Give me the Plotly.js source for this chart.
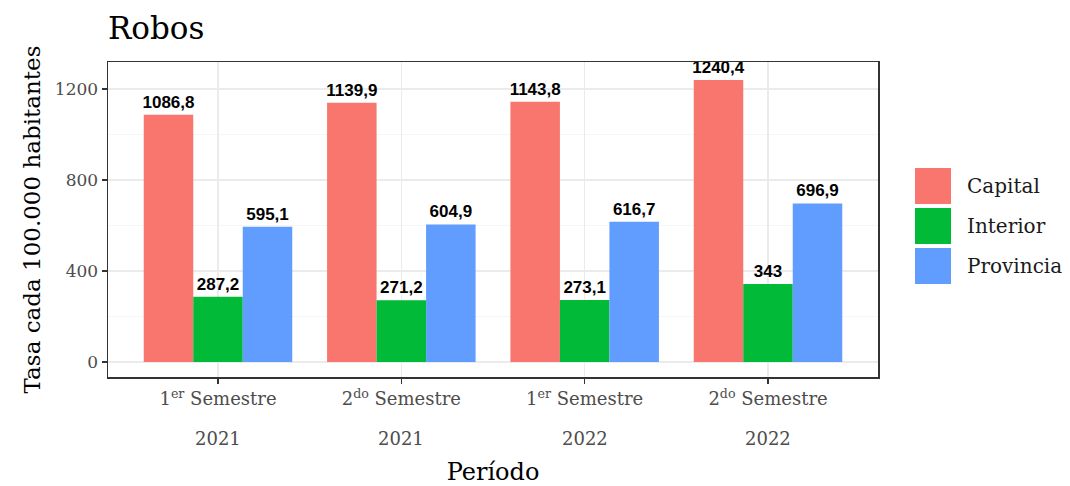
<!DOCTYPE html>
<html><head><meta charset="utf-8">
<script src="https://cdn.plot.ly/plotly-3.0.1.min.js"></script>
<style>html,body{margin:0;padding:0;background:#fff}</style>
</head><body><div id="chart" style="width:1070px;height:486px"></div>
<script>
var semesters = ["1<sup>er</sup> Semestre", "2<sup>do</sup> Semestre", "1<sup>er</sup> Semestre", "2<sup>do</sup> Semestre"];
var years = ["2021", "2021", "2022", "2022"];
var seriesNames = ["Capital", "Interior", "Provincia"];
var capital = [1086.8, 1139.9, 1143.8, 1240.4];
var interior = [287.2, 271.2, 273.1, 343];
var provincia = [595.1, 604.9, 616.7, 696.9];
var colors = ["#F8766D", "#00BA38", "#619CFF"];
var yTicks = [0, 400, 800, 1200];

var serif = "DejaVu Serif, serif";
var allSeries = [capital, interior, provincia];
var xIdx = semesters.map(function(_, i){ return i; });
function fmt(v){ return String(v).replace('.', ','); }

var traces = allSeries.map(function(vals, k){
  return {
    type: 'bar', name: seriesNames[k], x: xIdx, y: vals,
    marker: {color: colors[k], line: {width: 0}},
    text: vals.map(fmt), textposition: 'outside', cliponaxis: false,
    constraintext: 'none',
    textfont: {family: 'Liberation Sans, Arial, sans-serif', size: 17, color: '#000', weight: 'bold'},
    showlegend: false, hoverinfo: 'x+y'
  };
});

var shapes = [], annotations = [];
var px = function(x){ return (x - 108) / 770; };
var py = function(y){ return (377 - y) / 315; };
var keyTops = [168, 208, 248];
seriesNames.forEach(function(n, k){
  shapes.push({type: 'rect', xref: 'paper', yref: 'paper',
    x0: px(915), x1: px(951), y0: py(keyTops[k] + 36), y1: py(keyTops[k]),
    fillcolor: colors[k], line: {width: 0}});
  annotations.push({xref: 'paper', yref: 'paper', x: px(965), y: py(keyTops[k] + 18),
    xanchor: 'left', yanchor: 'middle', showarrow: false, text: n,
    font: {family: serif, size: 20, color: '#1a1a1a'}});
});
years.forEach(function(yr, i){
  annotations.push({xref: 'x', yref: 'paper', x: xIdx[i], y: py(438),
    xanchor: 'center', yanchor: 'middle', showarrow: false, text: yr,
    font: {family: serif, size: 18, color: '#4d4d4d'}});
});

var layout = {
  width: 1070, height: 486,
  margin: {l: 108, r: 192, t: 62, b: 109},
  paper_bgcolor: '#fff', plot_bgcolor: '#fff',
  title: {text: 'Robos', x: 108/1070, xanchor: 'left', y: 1 - 28/486, yanchor: 'middle',
    font: {family: serif, size: 31, color: '#000'}},
  barmode: 'group', bargap: 0.19, bargroupgap: 0,
  xaxis: {
    tickmode: 'array', tickvals: xIdx, ticktext: semesters,
    range: [-0.6, 3.6], showgrid: true, gridcolor: '#ebebeb', gridwidth: 1.2,
    ticks: 'outside', ticklen: 5, tickcolor: '#333', tickwidth: 1.2,
    tickfont: {family: serif, size: 18, color: '#4d4d4d'},
    showline: true, linecolor: '#333', linewidth: 1.5, mirror: true, zeroline: false,
    title: {text: 'Período', font: {family: serif, size: 24, color: '#000'}, standoff: 56}
  },
  yaxis: {
    range: [-66, 1319], tickmode: 'array', tickvals: yTicks,
    showgrid: true, gridcolor: '#ebebeb', gridwidth: 1.2,
    minor: {tickvals: [200, 600, 1000], showgrid: true, gridcolor: '#f4f4f4', gridwidth: 0.8},
    ticks: 'outside', ticklen: 5, tickcolor: '#333', tickwidth: 1.2,
    tickfont: {family: serif, size: 17, color: '#4d4d4d'},
    showline: true, linecolor: '#333', linewidth: 1.5, mirror: true, zeroline: false,
    title: {text: 'Tasa cada 100.000 habitantes', font: {family: serif, size: 23, color: '#000'}, standoff: 8}
  },
  shapes: shapes, annotations: annotations, showlegend: false
};

Plotly.newPlot('chart', traces, layout, {displayModeBar: false, staticPlot: true});
</script></body></html>
